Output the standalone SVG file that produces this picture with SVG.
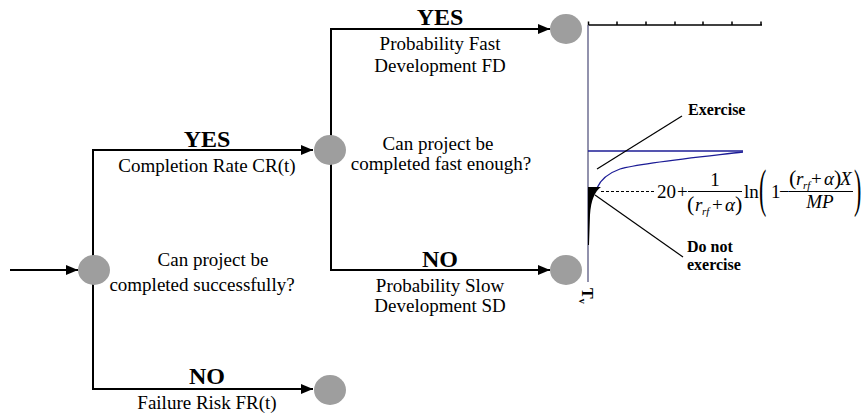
<svg xmlns="http://www.w3.org/2000/svg" width="862" height="416" viewBox="0 0 862 416">
  <style>
    .lbl { font-family: "Liberation Serif", "Times New Roman", serif; font-size: 19px; fill: #000; text-anchor: middle; }
    .big { font-family: "Liberation Serif", "Times New Roman", serif; font-size: 24px; font-weight: bold; fill: #000; text-anchor: middle; }
    .note { font-family: "Liberation Serif", "Times New Roman", serif; font-size: 16px; font-weight: bold; fill: #000; }
    .math { font-family: "Liberation Serif", "Times New Roman", serif; font-size: 19px; fill: #000; }
    .it { font-style: italic; }
    .sub { font-size: 11px; font-style: italic; }
    .paren { font-size: 22px; }
    .node { fill: #9e9e9e; }
    .conn { fill: none; stroke: #000; stroke-width: 2; }
    .thin { fill: none; stroke: #000; stroke-width: 1.2; }
  </style>
  <defs>
    <marker id="arrow" markerWidth="12" markerHeight="10" refX="12" refY="5" orient="auto" markerUnits="userSpaceOnUse">
      <path d="M0,0 L12,5 L0,10 Z" fill="#000"/>
    </marker>
  </defs>

  <rect width="862" height="416" fill="#fff"/>

  <!-- connectors -->
  <g id="connectors">
    <line class="conn" x1="10" y1="270" x2="78" y2="270" marker-end="url(#arrow)"/>
    <polyline class="conn" points="93,256 93,150 313,150" marker-end="url(#arrow)"/>
    <polyline class="conn" points="93,284 93,389 313,389" marker-end="url(#arrow)"/>
    <polyline class="conn" points="331,136 331,29 550,29" marker-end="url(#arrow)"/>
    <polyline class="conn" points="331,164 331,270 550,270" marker-end="url(#arrow)"/>
  </g>

  <!-- decision nodes -->
  <g id="root"><ellipse class="node" cx="94" cy="270" rx="16" ry="15"/></g>
  <g id="completion"><ellipse class="node" cx="330" cy="150" rx="16" ry="15"/></g>
  <g id="failure"><ellipse class="node" cx="330" cy="390" rx="16" ry="15"/></g>
  <g id="fast"><ellipse class="node" cx="566" cy="29" rx="16" ry="15"/></g>
  <g id="slow"><ellipse class="node" cx="566" cy="270" rx="16" ry="15"/></g>

  <!-- branch labels -->
  <g id="labels">
    <text class="big" x="207" y="147">YES</text>
    <text class="lbl" x="207" y="172">Completion Rate CR(t)</text>
    <text class="lbl" x="213" y="266">Can project be</text>
    <text class="lbl" x="202" y="291">completed successfully?</text>
    <text class="big" x="207" y="384">NO</text>
    <text class="lbl" x="207" y="409">Failure Risk FR(t)</text>

    <text class="big" x="440" y="25">YES</text>
    <text class="lbl" x="440" y="50">Probability Fast</text>
    <text class="lbl" x="440" y="72">Development FD</text>
    <text class="lbl" x="438" y="150">Can project be</text>
    <text class="lbl" x="441" y="170">completed fast enough?</text>
    <text class="big" x="440" y="267">NO</text>
    <text class="lbl" x="440" y="292">Probability Slow</text>
    <text class="lbl" x="440" y="312">Development SD</text>
  </g>

  <!-- exercise boundary chart -->
  <g id="chart">
    <!-- time axis with ticks -->
    <line x1="588" y1="25" x2="762" y2="25" stroke="#000" stroke-width="1.5"/>
    <path d="M588.5,25 V21.5 M617,25 V21.5 M646,25 V21.5 M675,25 V21.5 M703,25 V21.5 M732,25 V21.5 M761,25 V21.5" stroke="#000" stroke-width="1.5"/>
    <line x1="588" y1="25" x2="588" y2="282" stroke="#6e6e92" stroke-width="1.5"/>

    <!-- boundary curves -->
    <line x1="588" y1="151" x2="743" y2="151" stroke="#1c1c96" stroke-width="1.3"/>
    <path d="M743,152 C700,157 640,163 620,169 C606,174 600,181 597,188" fill="none" stroke="#1c1c96" stroke-width="1.3"/>
    <path d="M588,187 L601,187 C595,191 591,200 590,215 L589,245 L588,245 Z" fill="#000"/>
    <line x1="601" y1="191.5" x2="655" y2="191.5" stroke="#000" stroke-width="1" stroke-dasharray="3,2"/>

    <!-- region callouts -->
    <line class="thin" x1="682" y1="116" x2="597" y2="169"/>
    <text class="note" x="688" y="115">Exercise</text>
    <line class="thin" x1="595" y1="195" x2="683" y2="257"/>
    <text class="note" x="687" y="252">Do not</text>
    <text class="note" x="687" y="270">exercise</text>

    <!-- axis label -->
    <text class="note" transform="translate(582,288) rotate(90)">T<tspan style="font-size:10px" dy="3">v</tspan></text>

    <!-- boundary formula -->
    <text class="math" x="657" y="198">20</text>
    <text class="math" x="677" y="198">+</text>
    <text class="math" x="715" y="186" text-anchor="middle">1</text>
    <line x1="688" y1="191.5" x2="742" y2="191.5" stroke="#000" stroke-width="1"/>
    <text class="math paren" x="687" y="211">(</text>
    <text class="math it" x="695" y="211">r</text>
    <text class="math sub" x="702" y="215">rf</text>
    <text class="math" x="712" y="211">+</text>
    <text class="math it" x="725" y="211">α</text>
    <text class="math paren" x="735" y="211">)</text>
    <text class="math" x="744" y="198">ln</text>
    <text class="math paren" transform="translate(759,206) scale(1,2.4)">(</text>
    <text class="math" x="771" y="198">1</text>
    <text class="math" x="779" y="198">−</text>
    <text class="math paren" x="789" y="185">(</text>
    <text class="math it" x="796" y="185">r</text>
    <text class="math sub" x="803" y="189">rf</text>
    <text class="math" x="811" y="185">+</text>
    <text class="math it" x="824" y="185">α</text>
    <text class="math paren" x="834" y="185">)</text>
    <text class="math it" x="840" y="185">X</text>
    <line x1="789" y1="191.5" x2="853" y2="191.5" stroke="#000" stroke-width="1"/>
    <text class="math it" x="820" y="208" text-anchor="middle">MP</text>
    <text class="math paren" transform="translate(854,206) scale(1,2.4)">)</text>
  </g>
</svg>
